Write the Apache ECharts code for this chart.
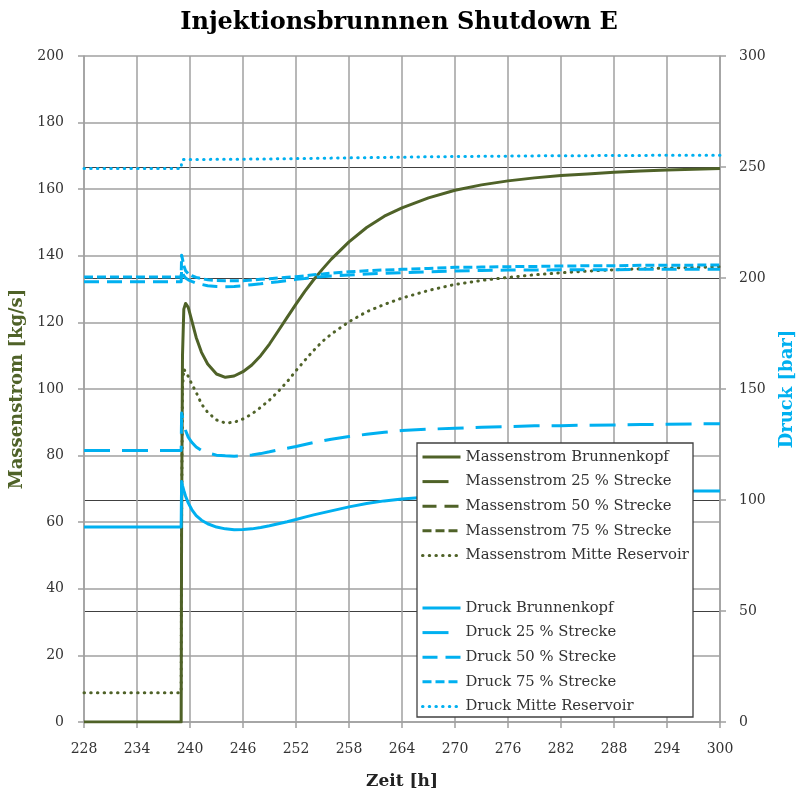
<!DOCTYPE html>
<html>
<head>
<meta charset="utf-8">
<script src="https://cdn.jsdelivr.net/npm/echarts@6/dist/echarts.min.js"></script>
<style>
html,body{margin:0;padding:0;background:#fff;overflow:hidden;}
#chart{width:798px;height:796px;}
</style>
</head>
<body>
<div id="chart"></div>
<script>
// ---- data ----
const zeit = [228, 239.0, 239.05, 239.15, 239.3, 239.5, 239.8, 240.2, 240.7, 241.3, 242, 243, 244, 245, 246, 247, 248, 249, 250, 251, 252, 253, 254, 255, 256, 258, 260, 262, 264, 267, 270, 273, 276, 279, 282, 285, 288, 291, 294, 297, 300];

// Massenstrom [kg/s]
const massBrunnenkopf = [0, 0, 60, 110, 124, 125.7, 124.5, 120.5, 115.5, 111, 107.5, 104.5, 103.5, 103.9, 105.2, 107.2, 110, 113.5, 117.5, 121.5, 125.5, 129.3, 132.8, 136, 139, 144.2, 148.5, 151.9, 154.4, 157.4, 159.7, 161.3, 162.5, 163.4, 164.1, 164.6, 165.1, 165.5, 165.8, 166, 166.2];
// 25/50/75 % curves lie exactly under the Brunnenkopf curve in the picture
const mass25 = massBrunnenkopf;
const mass50 = massBrunnenkopf;
const mass75 = massBrunnenkopf;
const massMitte = [8.8, 8.8, 60, 100, 106, 105.5, 103.8, 101.5, 99, 95.5, 93, 90.7, 89.8, 90, 91, 92.5, 94.5, 96.7, 99.3, 102.2, 105.5, 108.6, 111.6, 114.3, 116.5, 120.2, 123.2, 125.4, 127.3, 129.6, 131.4, 132.6, 133.5, 134.3, 134.9, 135.4, 135.8, 136.1, 136.3, 136.5, 136.7];

// Druck [bar]
const druckBrunnenkopf = [87.8, 87.8, 108.3, 106.5, 104.3, 101.7, 98.7, 95.7, 93, 90.9, 89.3, 87.8, 87, 86.6, 86.7, 87, 87.6, 88.4, 89.3, 90.2, 91.2, 92.3, 93.3, 94.2, 95.1, 96.9, 98.4, 99.6, 100.5, 101.4, 102, 102.6, 103.1, 103.4, 103.5, 103.7, 103.8, 103.8, 104, 104, 104];
const druck25 = [122.3, 122.3, 139.2, 137.3, 134.7, 131.3, 128.3, 126, 123.9, 122.3, 121.2, 120.2, 119.9, 119.7, 119.9, 120.3, 120.9, 121.7, 122.6, 123.3, 124.1, 125, 125.9, 126.6, 127.4, 128.6, 129.6, 130.5, 131.3, 131.9, 132.3, 132.8, 133.1, 133.4, 133.5, 133.7, 133.8, 134, 134.1, 134.3, 134.3];
const druck50 = [198.3, 198.3, 204, 202.5, 201, 200, 199.2, 198.5, 197.7, 197.1, 196.5, 196.2, 196.1, 196.2, 196.5, 197, 197.4, 197.9, 198.3, 198.8, 199.4, 199.8, 200.3, 200.6, 200.9, 201.3, 201.8, 202.1, 202.4, 202.8, 203.1, 203.4, 203.6, 203.6, 203.7, 203.7, 203.7, 203.9, 203.9, 203.9, 203.9];
const druck75 = [200.4, 200.4, 210.3, 208.5, 205.5, 203.3, 201.9, 201, 200.3, 199.7, 199.2, 198.9, 198.8, 198.8, 198.8, 199.1, 199.4, 199.7, 200, 200.3, 200.6, 201, 201.5, 201.8, 202.2, 202.8, 203.3, 203.6, 203.9, 204.3, 204.8, 204.9, 205.1, 205.2, 205.4, 205.5, 205.5, 205.7, 205.7, 205.8, 205.8];
const druckMitte = [249.3, 249.3, 252, 253.3, 253.4, 253.4, 253.4, 253.4, 253.4, 253.4, 253.4, 253.5, 253.5, 253.5, 253.5, 253.6, 253.6, 253.6, 253.7, 253.7, 253.8, 253.8, 253.9, 253.9, 254, 254.1, 254.2, 254.3, 254.4, 254.6, 254.7, 254.8, 254.9, 255, 255.1, 255.1, 255.2, 255.2, 255.3, 255.3, 255.3];

const namesMass = ['Massenstrom Brunnenkopf', 'Massenstrom 25 % Strecke', 'Massenstrom 50 % Strecke', 'Massenstrom 75 % Strecke', 'Massenstrom Mitte Reservoir'];
const namesDruck = ['Druck Brunnenkopf', 'Druck 25 % Strecke', 'Druck 50 % Strecke', 'Druck 75 % Strecke', 'Druck Mitte Reservoir'];

// ---- styling ----
const OLIVE = '#4f6228';
const BLUE = '#00b0f0';
const GRID = '#a0a0a0';
const DARK = '#404040';
const FONT = 'DejaVu Serif';
const DASH_LONG = [26, 12];
const DASH_MED = [14, 8];
const DASH_SHORT = [9, 4];
const DOT = [0.5, 6.2];

const pair = (ys) => zeit.map((t, i) => [t, ys[i]]);

function mkSeries(name, ys, yIdx, color, dash, width, cap, z, opacity) {
  return {
    name: name, type: 'line', yAxisIndex: yIdx, data: pair(ys),
    symbol: 'none', smooth: false, z: z || 2,
    lineStyle: { color: color, width: width, type: dash, cap: cap || 'butt', join: 'round', opacity: opacity === undefined ? 1 : opacity },
    itemStyle: { color: color },
    emphasis: { disabled: true }, animation: false
  };
}

const series = [
  mkSeries(namesMass[1], mass25, 0, OLIVE, DASH_LONG, 3, null, 2, 0),
  mkSeries(namesMass[2], mass50, 0, OLIVE, DASH_MED, 3, null, 2, 0),
  mkSeries(namesMass[3], mass75, 0, OLIVE, DASH_SHORT, 3, null, 2, 0),
  mkSeries(namesMass[0], massBrunnenkopf, 0, OLIVE, 'solid', 3, null, 3),
  mkSeries(namesMass[4], massMitte, 0, OLIVE, DOT, 3, 'round', 3),
  mkSeries(namesDruck[0], druckBrunnenkopf, 1, BLUE, 'solid', 3, null, 4),
  mkSeries(namesDruck[1], druck25, 1, BLUE, DASH_LONG, 3, null, 4),
  mkSeries(namesDruck[2], druck50, 1, BLUE, [15, 8], 3, null, 4),
  mkSeries(namesDruck[3], druck75, 1, BLUE, DASH_SHORT, 3, null, 4),
  mkSeries(namesDruck[4], druckMitte, 1, BLUE, DOT, 3, 'round', 4)
];

const legendCommon = {
  orient: 'vertical', left: 421, itemWidth: 38, itemHeight: 12, itemGap: 4.6,
  textStyle: { fontFamily: FONT, fontSize: 14.8, color: '#333', lineHeight: 20 },
  itemStyle: { opacity: 0 },
  lineStyle: { width: 3, opacity: 1 },
  selectedMode: false, z: 20, padding: 0
};

const chart = echarts.init(document.getElementById('chart'), null, { renderer: 'canvas' });
chart.setOption({
  animation: false,
  backgroundColor: '#fff',
  title: {
    text: 'Injektionsbrunnnen Shutdown E', left: 'center', top: 6,
    textStyle: { fontFamily: FONT, fontSize: 24, fontWeight: 'bold', color: '#000' }
  },
  grid: { left: 84, right: 78, top: 56, bottom: 74, containLabel: false, outerBoundsMode: 'none' },
  xAxis: {
    type: 'value', min: 228, max: 300, interval: 6,
    name: 'Zeit [h]', nameLocation: 'middle', nameGap: 51,
    nameTextStyle: { fontFamily: FONT, fontSize: 17, fontWeight: 'bold', color: '#222' },
    axisLine: { lineStyle: { color: GRID, width: 1.5 } },
    axisTick: { show: true, length: 6, lineStyle: { color: GRID, width: 1.5 } },
    axisLabel: { fontFamily: FONT, fontSize: 14, color: '#333', margin: 20 },
    splitLine: { show: true, lineStyle: { color: GRID, width: 1.5 } }
  },
  yAxis: [
    {
      type: 'value', min: 0, max: 200, interval: 20, position: 'left',
      name: 'Massenstrom [kg/s]', nameLocation: 'middle', nameGap: 48, nameRotate: 90,
      nameTextStyle: { fontFamily: FONT, fontSize: 18, fontWeight: 'bold', color: OLIVE },
      axisLine: { show: true, lineStyle: { color: GRID, width: 1.5 } },
      axisTick: { show: true, length: 6, lineStyle: { color: GRID, width: 1.5 } },
      axisLabel: { fontFamily: FONT, fontSize: 14, color: '#333', margin: 20 },
      splitLine: { show: true, lineStyle: { color: GRID, width: 1.5 } }
    },
    {
      type: 'value', min: 0, max: 300, interval: 50, position: 'right',
      name: 'Druck [bar]', nameLocation: 'middle', nameGap: 58, nameRotate: 90,
      nameTextStyle: { fontFamily: FONT, fontSize: 18, fontWeight: 'bold', color: BLUE },
      axisLine: { show: true, lineStyle: { color: GRID, width: 1.5 } },
      axisTick: { show: true, length: 6, lineStyle: { color: GRID, width: 1.5 } },
      axisLabel: { fontFamily: FONT, fontSize: 14, color: '#333', margin: 19 },
      splitLine: { show: true, lineStyle: { color: ['transparent', DARK, DARK, 'transparent', DARK, DARK, 'transparent'], width: 1.2 } }
    }
  ],
  legend: [
    Object.assign({ top: 447, data: namesMass }, legendCommon),
    Object.assign({ top: 598, data: namesDruck }, legendCommon)
  ],
  graphic: [{
    type: 'rect', z: 15, zlevel: 0,
    shape: { x: 417, y: 443, width: 276, height: 274 },
    style: { fill: '#fff', stroke: DARK, lineWidth: 1.3 }
  }],
  series: series
});
</script>
</body>
</html>
